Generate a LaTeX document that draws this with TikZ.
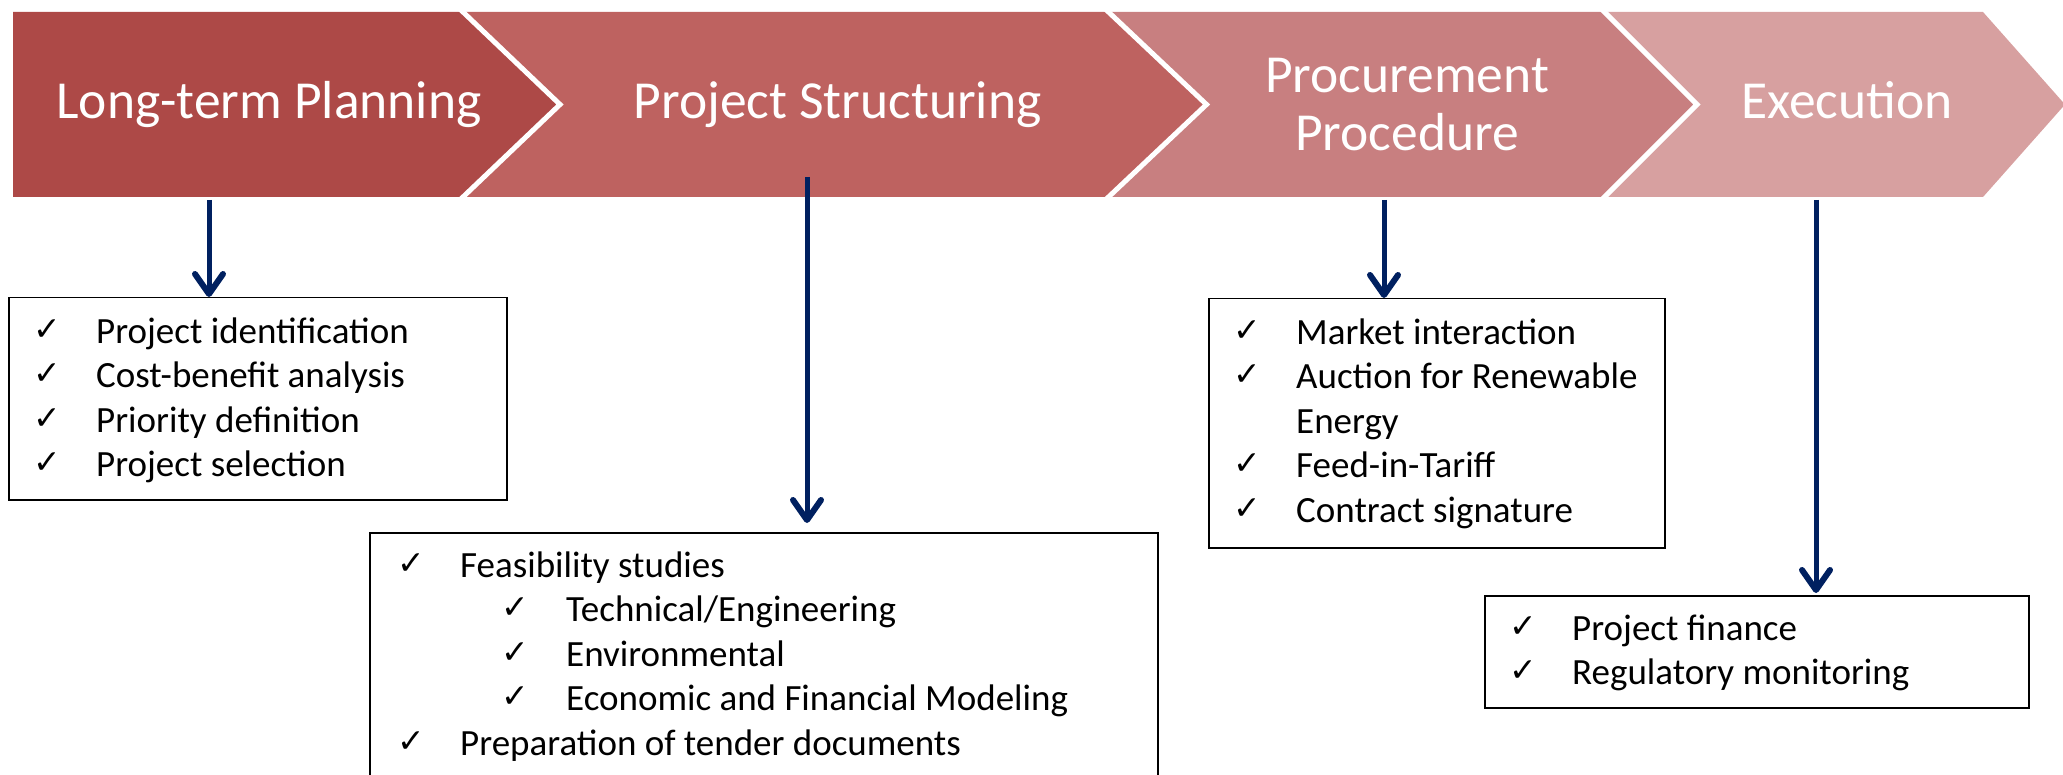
\documentclass[tikz,border=0pt]{standalone}
\usepackage{fontspec}
\setmainfont{Carlito}
\newfontfamily\symfont{DejaVu Sans}
\usetikzlibrary{arrows.meta,calc}
\definecolor{cA}{HTML}{AD4947}
\definecolor{cB}{HTML}{BE6260}
\definecolor{cC}{HTML}{C87F80}
\definecolor{cD}{HTML}{D7A0A0}
\definecolor{navy}{HTML}{002060}
\newcommand\ckm[1][63pt]{\makebox[#1][l]{\raisebox{3pt}{\symfont\fontsize{33}{33}\selectfont ✓}}}
\begin{document}
\begin{tikzpicture}[x=1pt,y=-1pt,
 title/.style={text=white, font=\fontsize{53.5}{58}\selectfont, align=center, inner sep=0pt, anchor=base},
 listbox/.style={draw=black, line width=1.5pt, fill=white, inner sep=0pt, anchor=north west},
 listtext/.style={font=\fontsize{37}{44.5}\selectfont, align=left, inner sep=0pt, anchor=base west},
 arr/.style={draw=navy, line width=5pt, -{Straight Barb[length=20pt,width=28pt,line width=6pt,round]}},
 sep/.style={draw=white, line width=5pt}]
\path[use as bounding box, clip] (0,0) rectangle (2063,775);
% chevron bar
\fill[cA] (13,12) -- (463,12) -- (560,104.5) -- (463,197) -- (13,197) -- cycle;
\fill[cB] (463,12) -- (1108.5,12) -- (1206.5,104.5) -- (1108.5,197) -- (463,197) -- (560,104.5) -- cycle;
\fill[cC] (1108.5,12) -- (1604.5,12) -- (1697,104.5) -- (1604.5,197) -- (1108.5,197) -- (1206.5,104.5) -- cycle;
\fill[cD] (1604.5,12) -- (1983,12) -- (2065,104.5) -- (1983,197) -- (1604.5,197) -- (1697,104.5) -- cycle;
\draw[sep] (450.4,0) -- (560,104.5) -- (450.4,209);
\draw[sep] (1095.8,0) -- (1206.5,104.5) -- (1095.8,209);
\draw[sep] (1592.5,0) -- (1697,104.5) -- (1592.5,209);
% titles (base = baseline of last line)
\node[title] (p1) at (269,119) {Long-term Planning};
\node[title] (p2) at (837.5,119) {Project Structuring};
\node[title] (p3) at (1407,151) {Procurement\\Procedure};
\node[title] (p4) at (1847,119) {Execution};
% boxes
\node[listbox, minimum width=498pt, minimum height=202pt] (b1) at (8,297) {};
\node[listbox, minimum width=788pt, minimum height=280pt] (b2) at (369,532) {};
\node[listbox, minimum width=456pt, minimum height=249pt] (b3) at (1208,298) {};
\node[listbox, minimum width=544pt, minimum height=112pt] (b4) at (1484,595) {};
% list texts (anchor = baseline of last line)
\node[listtext] (t1) at (33,476.5) {\ckm Project identification\\ \ckm Cost-benefit analysis\\ \ckm Priority definition\\ \ckm Project selection};
\node[listtext] (t2) at (397,755) {\ckm Feasibility studies\\ \hspace*{104pt}\ckm[65pt]Technical/Engineering\\ \hspace*{104pt}\ckm[65pt]Environmental\\ \hspace*{104pt}\ckm[65pt]Economic and Financial Modeling\\ \ckm Preparation of tender documents};
\node[listtext] (t3) at (1233,522) {\ckm Market interaction\\ \ckm Auction for Renewable\\ \hspace*{63pt}Energy\\ \ckm Feed-in-Tariff\\ \ckm Contract signature};
\node[listtext] (t4) at (1509,684.5) {\ckm Project finance\\ \ckm Regulatory monitoring};
% arrows
\coordinate (a1) at (209,200);
\coordinate (a2) at (807,177);
\coordinate (a3) at (1384,200);
\coordinate (a4) at (1816,200);
\draw[arr] (a1) -- (a1 |- b1.north);
\draw[arr, shorten >=9pt] (a2) -- (a2 |- b2.north);
\draw[arr] (a3) -- (a3 |- b3.north);
\draw[arr, shorten >=2pt] (a4) -- (a4 |- b4.north);
\end{tikzpicture}
\end{document}
